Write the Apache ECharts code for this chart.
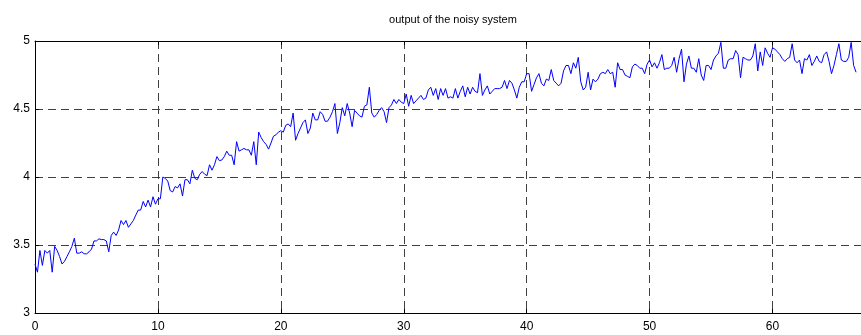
<!DOCTYPE html>
<html>
<head>
<meta charset="utf-8">
<script src="https://cdn.jsdelivr.net/npm/echarts@6/dist/echarts.min.js"></script>
<style>
  html, body { margin: 0; padding: 0; background: #fff; }
  #chart { width: 861px; height: 335px; }
</style>
</head>
<body>
<div id="chart"></div>
<script>
// Sampling step of the simulated output (time units)
const dt = 0.2;

// Noisy system output, one value per sample starting at t = 0
const output = [
  3.36, 3.30, 3.46, 3.35, 3.46,
  3.44, 3.46, 3.30, 3.49, 3.46,
  3.415, 3.36, 3.38, 3.415, 3.45,
  3.49, 3.55, 3.44, 3.44, 3.45,
  3.435, 3.435, 3.45, 3.47, 3.53,
  3.53, 3.545, 3.54, 3.54, 3.53,
  3.45, 3.57, 3.595, 3.57, 3.61,
  3.68, 3.65, 3.68, 3.63, 3.655,
  3.68, 3.72, 3.757, 3.757, 3.82,
  3.78, 3.83, 3.78, 3.855, 3.80,
  3.84, 3.84, 4.0, 3.99, 3.97,
  3.90, 3.89, 3.93, 3.92, 3.95,
  3.86, 3.98, 3.98, 3.95, 4.05,
  3.99, 3.98, 4.02, 4.04, 4.02,
  4.01, 4.09, 4.05, 4.09, 4.15,
  4.12, 4.125, 4.15, 4.19, 4.16,
  4.16, 4.09, 4.26, 4.19, 4.20,
  4.21, 4.20, 4.20, 4.16, 4.26,
  4.09, 4.33, 4.29, 4.26, 4.24,
  4.205, 4.25, 4.30, 4.31, 4.33,
  4.34, 4.33, 4.38, 4.39, 4.37,
  4.47, 4.27, 4.32, 4.36, 4.40,
  4.42, 4.32, 4.36, 4.47, 4.42,
  4.42, 4.48, 4.46, 4.41, 4.41,
  4.44, 4.48, 4.54, 4.32, 4.40,
  4.51, 4.45, 4.54, 4.47, 4.37,
  4.49, 4.47, 4.45, 4.44, 4.52,
  4.53, 4.66, 4.47, 4.44, 4.46,
  4.49, 4.51, 4.48, 4.40, 4.51,
  4.53, 4.57, 4.54, 4.57, 4.55,
  4.54, 4.61, 4.52, 4.60, 4.54,
  4.56, 4.58, 4.60, 4.57, 4.58,
  4.64, 4.66, 4.60, 4.65, 4.57,
  4.65, 4.60, 4.65, 4.58, 4.59,
  4.58, 4.65, 4.58, 4.63, 4.67,
  4.59, 4.66, 4.61, 4.66, 4.63,
  4.62, 4.76, 4.60, 4.64, 4.67,
  4.61, 4.63, 4.65, 4.65, 4.65,
  4.66, 4.71, 4.65, 4.71, 4.69,
  4.64, 4.58, 4.66, 4.70, 4.70,
  4.76, 4.76, 4.63, 4.68, 4.73,
  4.76, 4.69, 4.67, 4.72, 4.71,
  4.79, 4.71, 4.69, 4.67, 4.69,
  4.78, 4.82, 4.82, 4.76, 4.84,
  4.80, 4.88, 4.70, 4.64, 4.66,
  4.77, 4.64, 4.72, 4.70, 4.72,
  4.76, 4.77, 4.76, 4.79, 4.76,
  4.77, 4.66, 4.84, 4.79, 4.79,
  4.75, 4.74, 4.73, 4.81, 4.83,
  4.82, 4.80, 4.80, 4.76, 4.83,
  4.86, 4.81, 4.84, 4.80, 4.84,
  4.90, 4.79, 4.80, 4.80, 4.82,
  4.88, 4.77, 4.87, 4.94, 4.70,
  4.83, 4.89, 4.80, 4.80, 4.77,
  4.87, 4.75, 4.71, 4.82, 4.82,
  4.79, 4.86, 4.89, 4.91, 4.99,
  4.80, 4.80, 4.86, 4.87, 4.87,
  4.93, 4.90, 4.73, 4.88, 4.87,
  4.86, 4.86, 4.89, 4.98, 4.78,
  4.92, 4.82, 4.95, 4.91, 4.88,
  4.95, 4.94, 4.92, 4.90, 4.87,
  4.85, 4.87, 4.88, 4.98, 4.86,
  4.84, 4.86, 4.76, 4.87, 4.86,
  4.90, 4.82, 4.85, 4.89, 4.85,
  4.84, 4.90, 4.92, 4.85, 4.76,
  4.82, 4.90, 4.98, 4.86, 4.85,
  4.85, 4.88, 4.99, 4.82, 4.77
];

// Axis ranges and tick spacing
const xRange = [0, 67.2];
const xStep = 10;
const yRange = [3, 5];
const yStep = 0.5;

const titleText = 'output of the noisy system';

const points = output.map((v, i) => [+(i * dt).toFixed(2), v]);

const font = 'Liberation Sans, Arial, sans-serif';
const gridDash = { color: '#404040', width: 1, type: [8, 5] };

const chart = echarts.init(document.getElementById('chart'), null, { renderer: 'canvas' });
chart.setOption({
  animation: false,
  backgroundColor: '#fff',
  title: {
    text: titleText,
    left: 448,
    top: 9,
    textAlign: 'center',
    textStyle: { fontFamily: font, fontSize: 11, fontWeight: 'normal', color: '#000' }
  },
  grid: { left: 35, right: 0, top: 41, bottom: 22, containLabel: false },
  xAxis: [
    {
      type: 'value',
      position: 'bottom',
      min: xRange[0], max: xRange[1], interval: xStep,
      axisLine: { show: true, lineStyle: { color: '#000', width: 1 } },
      axisTick: { show: true, inside: true, length: 4, lineStyle: { color: '#000' } },
      axisLabel: {
        margin: 8, color: '#000', fontFamily: font, fontSize: 12,
        showMaxLabel: false
      },
      splitLine: { show: true, lineStyle: gridDash }
    },
    {
      type: 'value',
      position: 'top',
      min: xRange[0], max: xRange[1], interval: xStep,
      axisLine: { show: true, onZero: false, lineStyle: { color: '#000', width: 1 } },
      axisTick: { show: true, inside: true, length: 4, lineStyle: { color: '#000' } },
      axisLabel: { show: false },
      splitLine: { show: false }
    }
  ],
  yAxis: {
    type: 'value',
    min: yRange[0], max: yRange[1], interval: yStep,
    axisLine: { show: true, lineStyle: { color: '#000', width: 1 } },
    axisTick: { show: true, inside: true, length: 4, lineStyle: { color: '#000' } },
    axisLabel: { margin: 5, color: '#000', fontFamily: font, fontSize: 12 },
    splitLine: { show: true, lineStyle: gridDash }
  },
  series: [{
    type: 'line',
    xAxisIndex: 0,
    data: points,
    showSymbol: false,
    symbol: 'none',
    lineStyle: { color: '#0000ff', width: 1 },
    z: 5
  }]
});
</script>
</body>
</html>
